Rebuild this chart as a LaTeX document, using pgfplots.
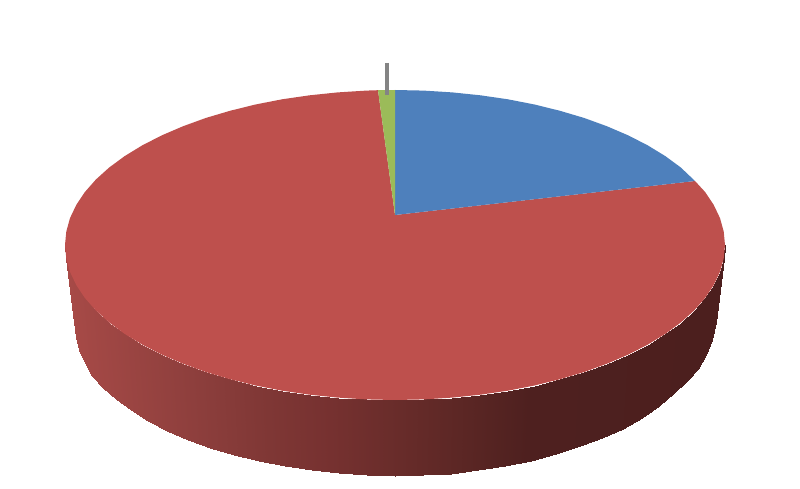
\documentclass[border=0pt]{standalone}
\usepackage{pgfplots}
\usepackage{pgfplotstable}
\pgfplotsset{compat=1.18}
\definecolor{pieblue}{RGB}{78,128,188}
\definecolor{piered}{RGB}{190,80,77}
\definecolor{piegreen}{RGB}{155,187,89}
\definecolor{leader}{RGB}{132,132,132}

% outer wall of the pie: top rim / bottom rim, left to right
\pgfplotstableread{
x y m
65 245 65
74 322 65
66.3 258.5 66
76 337 66
70 271.9 70
79 350 70
76.3 285.1 76
85 363 76
84.9 298 85
92.4 376 85
95.9 310.5 96
103.2 388 96
109.2 322.5 109
116.1 399 109
124.7 333.9 125
131.2 410 125
142.2 344.6 142
148.3 421 142
161.7 354.6 162
167.3 431 162
182.9 363.7 183
188 440 183
205.7 372 206
210.3 447.5 206
230 379.2 230
234 454.5 230
255.5 385.5 256
258.9 460.5 256
282.1 390.7 282
284.9 465.5 282
309.6 394.7 310
311.7 470 310
337.7 397.6 338
339.1 473 338
366.2 399.4 366
366.9 475 366
395 400 395
395 476 395
423.8 399.4 424
423.1 475.4 424
452.3 397.6 452
450.9 473.5 452
480.4 394.7 480
478.3 470 480
507.9 390.7 508
505.1 466 508
534.5 385.5 535
531.1 460.5 535
560 379.2 560
556 454 560
584.3 372 584
579.7 446 584
607.1 363.7 607
602 438 607
628.3 354.6 628
622.7 429 628
647.8 344.6 648
641.7 418 648
665.3 333.9 665
658.8 406 665
680.8 322.5 681
673.9 393 681
694.1 310.5 694
686.8 381 694
705.1 298 705
697.6 369 705
713.7 285.1 714
706 355 714
720 271.9 720
712.1 340 720
723.7 258.5 724
715.8 322 724
725 245 725
717 313 725
}\wall

\begin{document}
\begin{tikzpicture}
\begin{axis}[
    scale only axis,
    width=800bp, height=489bp,
    xmin=0, xmax=800, ymin=0, ymax=489,
    y dir=reverse,
    view={0}{90},
    hide axis,
    colormap={side}{
        rgb255(65pt)=(167,74,71)
        rgb255(200pt)=(140,62,60)
        rgb255(267pt)=(127,55,53)
        rgb255(330pt)=(118,49,48)
        rgb255(400pt)=(104,44,42)
        rgb255(480pt)=(88,37,35)
        rgb255(530pt)=(78,32,31)
        rgb255(725pt)=(76,31,30)
    },
    point meta min=65, point meta max=725,
]
\path (rel axis cs:0,0) rectangle (rel axis cs:1,1);

\addplot3[surf, shader=interp, mesh/rows=37, mesh/cols=2, point meta=explicit]
    table[x=x, y=y, z expr=0, meta=m] {\wall};

% red slice
\addplot[fill=piered, draw=none] coordinates {
(395,215) (695,181) (705.1,192) (713.7,204.9) (720,218.1) (723.7,231.5) (725,245)
(723.7,258.5) (720,271.9) (713.7,285.1) (705.1,298) (694.1,310.5) (680.8,322.5)
(665.3,333.9) (647.8,344.6) (628.3,354.6) (607.1,363.7) (584.3,372) (560,379.2)
(534.5,385.5) (507.9,390.7) (480.4,394.7) (452.3,397.6) (423.8,399.4) (395,400)
(366.2,399.4) (337.7,397.6) (309.6,394.7) (282.1,390.7) (255.5,385.5) (230,379.2)
(205.7,372) (182.9,363.7) (161.7,354.6) (142.2,344.6) (124.7,333.9) (109.2,322.5)
(95.9,310.5) (84.9,298) (76.3,285.1) (70,271.9) (66.3,258.5) (65,245)
(66.3,231.5) (70,218.1) (76.3,204.9) (84.9,192) (95.9,179.5) (109.2,167.5)
(124.7,156.1) (142.2,145.4) (161.7,135.4) (182.9,126.3) (205.7,118) (230,110.8)
(255.5,104.5) (282.1,99.3) (309.6,95.3) (337.7,92.4) (366.2,90.6) (378,90.2) (395,215)
};

% blue slice
\addplot[fill=pieblue, draw=none] coordinates {
(395,215) (395,90) (423.8,90.6) (452.3,92.4) (480.4,95.3) (507.9,99.3) (534.5,104.5)
(560,110.8) (584.3,118) (607.1,126.3) (628.3,135.4) (647.8,145.4) (665.3,156.1)
(680.8,167.5) (695,181) (395,215)
};

% green slice
\addplot[fill=piegreen, draw=none] coordinates {
(395,215) (378,90.2) (395,90) (395,215)
};

% leader line of the small slice
\addplot[leader, line width=3.2bp] coordinates {(387,63) (387,95)};
\end{axis}
\end{tikzpicture}
\end{document}
